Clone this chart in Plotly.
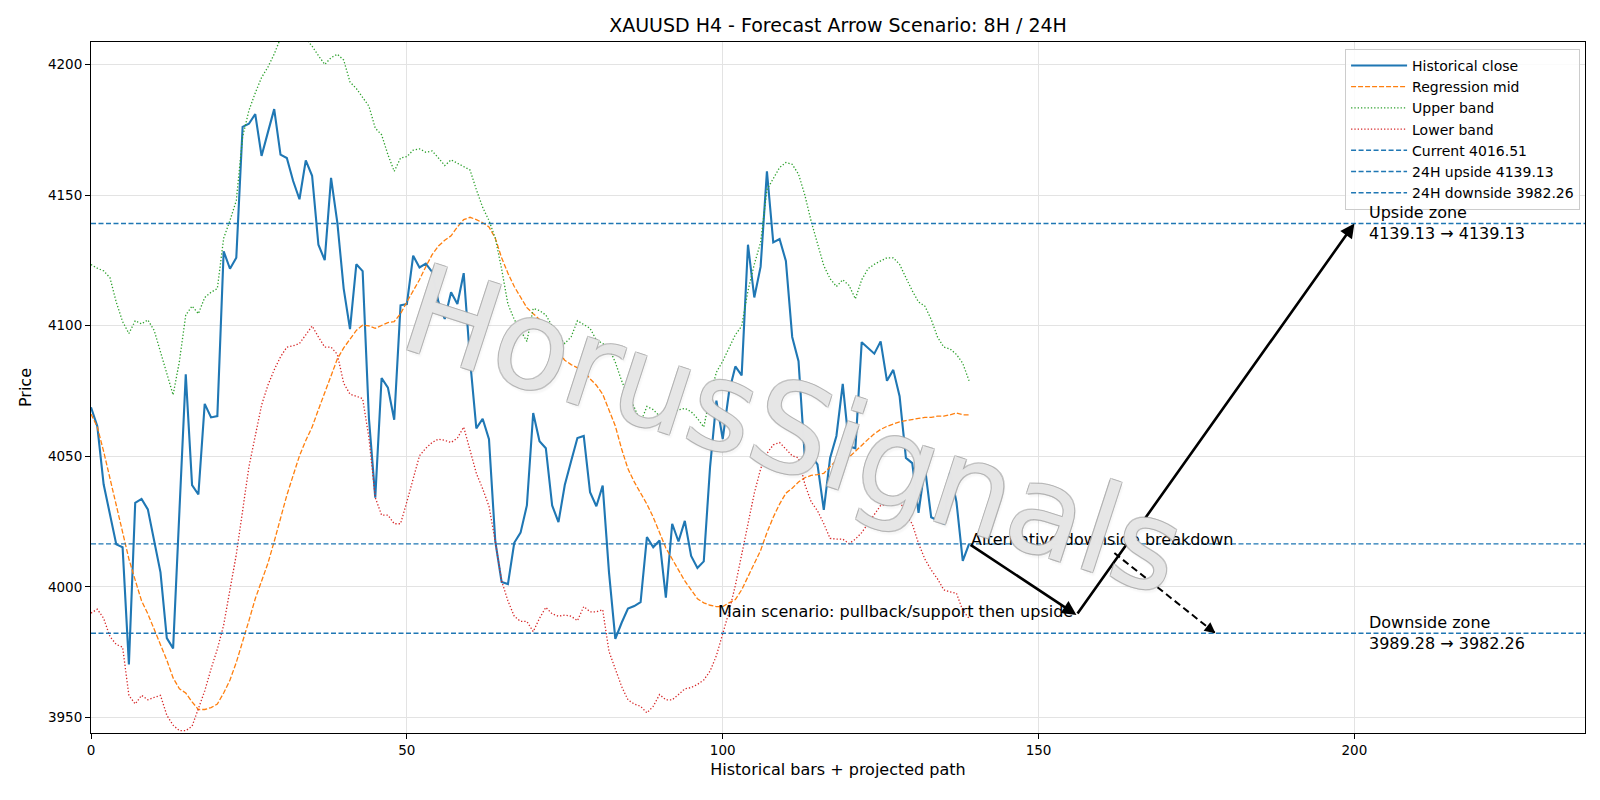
import plotly.graph_objects as go

# ---------------- data ----------------
close = [4068.8, 4061.5, 4039.3, 4027.5, 4016.3, 4015.2, 3970.3, 4032.2, 4033.7, 4029.7,
         4017.4, 4005.6, 3980.4, 3976.5, 4029.2, 4081.4, 4039.0, 4035.4, 4070.1, 4064.9,
         4065.4, 4128.5, 4121.8, 4126.0, 4176.1, 4177.3, 4181.0, 4165.0, 4174.0, 4182.9,
         4165.5, 4164.2, 4155.4, 4148.4, 4163.3, 4157.4, 4131.0, 4125.1, 4156.6, 4139.4,
         4114.2, 4098.7, 4123.5, 4120.9, 4064.5, 4034.2, 4080.0, 4076.3, 4064.0, 4107.8,
         4108.3, 4126.8, 4122.3, 4123.8, 4120.6, 4109.1, 4102.6, 4112.8, 4108.3, 4120.1,
         4087.0, 4060.7, 4064.4, 4056.6, 4017.4, 4001.9, 4001.1, 4016.9, 4020.8, 4031.2,
         4066.6, 4055.8, 4053.1, 4031.2, 4024.8, 4039.0, 4048.1, 4057.0, 4057.8, 4036.3,
         4030.9, 4038.8, 4005.6, 3980.1, 3986.3, 3991.7, 3992.7, 3994.2, 4019.1, 4015.2,
         4017.8, 3995.9, 4024.2, 4017.4, 4025.3, 4011.9, 4007.3, 4009.8, 4046.0, 4071.3,
         4056.6, 4074.6, 4084.4, 4081.0, 4131.0, 4110.8, 4122.6, 4159.1, 4131.9, 4133.2,
         4124.8, 4095.7, 4086.4, 4049.4, 4050.2, 4046.9, 4029.5, 4049.4, 4057.8, 4077.7,
         4053.9, 4053.1, 4093.7, 4091.5, 4089.3, 4094.0, 4078.9, 4083.1, 4073.0, 4049.4,
         4047.4, 4028.4, 4046.0, 4026.7, 4025.3, 4024.2, 4044.0, 4032.6, 4010.0, 4016.51]

reg_mid = [4066.2, 4061.2, 4051.9, 4041.8, 4031.7, 4020.8, 4010.7, 4002.6, 3994.7, 3989.7,
           3983.8, 3977.9, 3972.0, 3965.2, 3961.0, 3959.4, 3956.0, 3953.1, 3953.1, 3953.8,
           3955.2, 3959.4, 3964.4, 3971.1, 3978.7, 3987.1, 3995.5, 4002.0, 4009.0, 4017.4,
           4026.7, 4035.1, 4042.7, 4050.2, 4056.1, 4061.2, 4067.9, 4074.6, 4081.4, 4087.3,
           4091.5, 4094.8, 4098.2, 4100.2, 4099.9, 4099.0, 4100.2, 4101.2, 4101.6, 4104.6,
           4109.1, 4113.4, 4117.6, 4122.6, 4127.2, 4130.5, 4132.7, 4134.4, 4137.8, 4140.6,
           4141.5, 4140.6, 4139.4, 4137.8, 4133.5, 4126.0, 4120.1, 4115.0, 4110.8, 4106.9,
           4104.6, 4102.4, 4099.0, 4094.8, 4089.8, 4086.8, 4085.1, 4083.9, 4082.7, 4079.7,
           4077.2, 4073.8, 4067.9, 4061.6, 4052.8, 4045.2, 4040.2, 4035.9, 4031.7, 4026.7,
           4020.8, 4014.9, 4010.7, 4006.5, 4002.3, 3998.9, 3995.5, 3993.9, 3993.0, 3992.5,
           3992.5, 3993.9, 3995.2, 3998.9, 4004.0, 4009.0, 4014.0, 4020.8, 4026.7, 4031.7,
           4035.9, 4037.8, 4040.2, 4041.8, 4042.7, 4043.0, 4043.5, 4046.0, 4048.6, 4049.1,
           4049.7, 4051.9, 4054.4, 4056.5, 4058.6, 4060.3, 4061.5, 4062.5, 4063.2, 4063.7,
           4064.0, 4064.5, 4064.9, 4064.9, 4065.4, 4065.4, 4065.9, 4066.6, 4065.9, 4065.9]

upper_band = [4123.4, 4122.0, 4121.0, 4118.4, 4109.0, 4101.6, 4097.0, 4101.9, 4100.7, 4102.2,
              4098.2, 4089.8, 4082.2, 4073.5, 4086.4, 4104.1, 4107.5, 4104.6, 4110.8, 4112.8,
              4114.2, 4133.5, 4140.3, 4147.9, 4172.3, 4182.4, 4189.1, 4195.0, 4199.0, 4204.0,
              4210.0, 4214.0, 4216.0, 4214.0, 4210.0, 4207.0, 4203.4, 4200.0, 4202.6, 4203.9,
              4201.7, 4193.3, 4190.8, 4187.4, 4184.0, 4175.6, 4173.1, 4165.5, 4159.1, 4164.2,
              4164.7, 4167.2, 4167.7, 4166.4, 4166.9, 4164.2, 4161.3, 4163.5, 4162.2, 4160.8,
              4159.6, 4152.1, 4145.3, 4140.3, 4133.5, 4121.8, 4108.3, 4102.4, 4098.2, 4094.0,
              4106.6, 4105.8, 4104.1, 4099.9, 4095.7, 4093.2, 4095.7, 4101.9, 4100.4, 4099.0,
              4094.5, 4093.2, 4091.5, 4086.0, 4078.9, 4073.0, 4068.8, 4062.9, 4069.1, 4067.9,
              4065.4, 4062.9, 4067.1, 4067.9, 4068.4, 4067.1, 4064.5, 4061.2, 4073.0, 4082.2,
              4086.4, 4091.5, 4096.5, 4099.9, 4113.4, 4123.5, 4131.9, 4152.1, 4156.3, 4160.5,
              4162.5, 4161.8, 4158.0, 4150.0, 4140.0, 4131.0, 4123.0, 4118.0, 4115.0, 4117.6,
              4115.4, 4110.3, 4117.6, 4121.8, 4123.5, 4124.8, 4126.0, 4126.0, 4123.5, 4118.4,
              4113.4, 4109.1, 4107.5, 4102.4, 4095.7, 4091.8, 4091.1, 4089.0, 4085.6, 4078.9]

lower_band = [3990.0, 3991.5, 3988.0, 3981.0, 3978.0, 3977.0, 3958.5, 3955.2, 3958.5, 3956.8,
              3957.7, 3958.5, 3950.9, 3947.1, 3945.0, 3945.0, 3946.7, 3953.5, 3960.2, 3968.6,
              3976.2, 3985.4, 3998.9, 4012.4, 4029.2, 4046.0, 4057.8, 4069.6, 4077.2, 4083.1,
              4088.1, 4091.8, 4092.3, 4093.2, 4096.5, 4099.9, 4095.7, 4091.8, 4091.8, 4089.0,
              4078.0, 4073.8, 4073.0, 4072.1, 4057.0, 4034.2, 4027.5, 4027.5, 4024.2, 4024.2,
              4032.6, 4041.0, 4050.2, 4053.1, 4055.3, 4056.6, 4056.1, 4055.3, 4057.0, 4061.2,
              4052.8, 4043.5, 4037.6, 4030.9, 4017.4, 4002.3, 3994.7, 3988.8, 3986.8, 3986.8,
              3982.9, 3988.0, 3992.2, 3989.7, 3988.8, 3989.2, 3988.8, 3987.1, 3992.5, 3990.5,
              3990.5, 3991.3, 3975.3, 3968.6, 3961.9, 3956.8, 3955.2, 3954.3, 3951.8, 3954.3,
              3958.8, 3956.8, 3956.8, 3958.8, 3961.0, 3961.5, 3962.7, 3964.4, 3967.8, 3973.7,
              3982.1, 3990.5, 4000.6, 4012.4, 4024.2, 4035.9, 4045.2, 4051.1, 4054.4, 4055.3,
              4052.8, 4050.2, 4049.4, 4039.3, 4032.6, 4029.2, 4024.2, 4018.6, 4018.3, 4018.3,
              4016.6, 4018.3, 4020.8, 4024.2, 4027.5, 4031.2, 4031.7, 4032.6, 4033.4, 4027.5,
              4024.2, 4016.6, 4010.7, 4006.5, 4003.1, 3998.9, 3998.1, 3997.6, 3991.0, 3988.0]

bars = list(range(len(close)))

current_level = 4016.51
upside_level = 4139.13
downside_level = 3982.26
support_level = 3989.28

# projected path (bar index, price)
main_path_x = [139, 156, 200]
main_path_y = [current_level, support_level, upside_level]
alt_path_x = [162, 178]
alt_path_y = [4013.0, downside_level]
zone_label_x = 202

x_max = 236.5
y_min, y_max = 3944.1, 4208.6
x_ticks = [0, 50, 100, 150, 200]
y_ticks = [3950, 4000, 4050, 4100, 4150, 4200]

BLUE = "#1f77b4"
ORANGE = "#ff7f0e"
GREEN = "#2ca02c"
RED = "#d62728"
FONT = "DejaVu Sans"

fig = go.Figure()

fig.add_trace(go.Scatter(x=bars, y=close, mode="lines", name="Historical close",
                         line=dict(color=BLUE, width=2.1)))
fig.add_trace(go.Scatter(x=bars, y=reg_mid, mode="lines", name="Regression mid",
                         line=dict(color=ORANGE, width=1.3, dash="5px,2px")))
fig.add_trace(go.Scatter(x=bars, y=upper_band, mode="lines", name="Upper band",
                         line=dict(color=GREEN, width=1.3, dash="1.3px,2px")))
fig.add_trace(go.Scatter(x=bars, y=lower_band, mode="lines", name="Lower band",
                         line=dict(color=RED, width=1.3, dash="1.3px,2px")))

for lvl, nm in [(current_level, f"Current {current_level:.2f}"),
                (upside_level, f"24H upside {upside_level:.2f}"),
                (downside_level, f"24H downside {downside_level:.2f}")]:
    fig.add_trace(go.Scatter(x=[0, x_max], y=[lvl, lvl], mode="lines", name=nm,
                             line=dict(color=BLUE, width=1.4, dash="5px,2.5px")))

# dashed alternative path line
fig.add_trace(go.Scatter(x=alt_path_x, y=alt_path_y, mode="lines", showlegend=False,
                         line=dict(color="black", width=2, dash="7px,4px"), hoverinfo="skip"))

annotations = []
# main arrows
for i in range(len(main_path_x) - 1):
    annotations.append(dict(x=main_path_x[i + 1], y=main_path_y[i + 1],
                            ax=main_path_x[i], ay=main_path_y[i],
                            xref="x", yref="y", axref="x", ayref="y",
                            showarrow=True, arrowhead=2, arrowsize=1.1, arrowwidth=2.6,
                            arrowcolor="black", text=""))
# alternative arrowhead
dx = alt_path_x[1] - alt_path_x[0]
dy = alt_path_y[1] - alt_path_y[0]
annotations.append(dict(x=alt_path_x[1], y=alt_path_y[1],
                        ax=alt_path_x[1] - dx * 0.08, ay=alt_path_y[1] - dy * 0.08,
                        xref="x", yref="y", axref="x", ayref="y",
                        showarrow=True, arrowhead=2, arrowsize=1.2, arrowwidth=1.8,
                        arrowcolor="black", text=""))

txt_font = dict(family=FONT, size=16, color="black")
annotations.append(dict(x=main_path_x[0], y=current_level, xref="x", yref="y",
                        text="Alternative downside breakdown", showarrow=False,
                        xanchor="left", yanchor="bottom", yshift=-7, font=txt_font))
annotations.append(dict(x=main_path_x[1], y=support_level, xref="x", yref="y",
                        text="Main scenario: pullback/support then upside", showarrow=False,
                        xanchor="right", yanchor="middle", yshift=3, xshift=-1, font=txt_font))
annotations.append(dict(x=zone_label_x, y=upside_level, xref="x", yref="y",
                        text=f"Upside zone<br>{upside_level:.2f} \u2192 {upside_level:.2f}",
                        showarrow=False, xanchor="left", yanchor="middle", align="left",
                        font=txt_font))
annotations.append(dict(x=zone_label_x, y=downside_level, xref="x", yref="y",
                        text=f"Downside zone<br>{support_level:.2f} \u2192 {downside_level:.2f}",
                        showarrow=False, xanchor="left", yanchor="middle", align="left",
                        font=txt_font))
# watermark
annotations.append(dict(x=0.4705, y=0.438, xref="paper", yref="paper", text="HorusSignals",
                        showarrow=False, textangle=18,
                        font=dict(family=FONT, size=124, color="rgba(255,255,255,0.7)",
                                  shadow="1px 1px 0 #a9a9a9, -1px -1px 0 #a9a9a9, "
                                         "1px -1px 0 #a9a9a9, -1px 1px 0 #a9a9a9, "
                                         "3px 3px 2px rgba(0,0,0,0.05)")))

fig.update_layout(
    width=1600, height=800,
    margin=dict(l=91, r=15, t=42, b=67),
    paper_bgcolor="white", plot_bgcolor="white",
    font=dict(family=FONT, size=13.5, color="black"),
    title=dict(text="XAUUSD H4 - Forecast Arrow Scenario: 8H / 24H", x=0.5, xref="paper",
               xanchor="center", y=1 - 25 / 800, yanchor="middle",
               font=dict(family=FONT, size=19)),
    showlegend=True,
    legend=dict(x=0.9967, y=0.99, xanchor="right", yanchor="top",
                bgcolor="rgba(255,255,255,0.85)", bordercolor="#cccccc", borderwidth=1,
                font=dict(family=FONT, size=14), tracegroupgap=0, itemwidth=56),
    annotations=annotations,
)
fig.update_xaxes(range=[0, x_max], tickvals=x_ticks, showgrid=True, gridcolor="#e3e3e3",
                 gridwidth=1, zeroline=False, showline=True, linecolor="black", linewidth=1.1,
                 mirror=True, ticks="outside", ticklen=5, tickcolor="black",
                 title=dict(text="Historical bars + projected path", standoff=6,
                            font=dict(family=FONT, size=16)),
                 tickfont=dict(family=FONT, size=13.5))
fig.update_yaxes(range=[y_min, y_max], tickvals=y_ticks, showgrid=True, gridcolor="#e3e3e3",
                 gridwidth=1, zeroline=False, showline=True, linecolor="black", linewidth=1.1,
                 mirror=True, ticks="outside", ticklen=5, tickcolor="black",
                 title=dict(text="Price", standoff=12, font=dict(family=FONT, size=16)),
                 tickfont=dict(family=FONT, size=13.5))

fig.write_html("out.html")
